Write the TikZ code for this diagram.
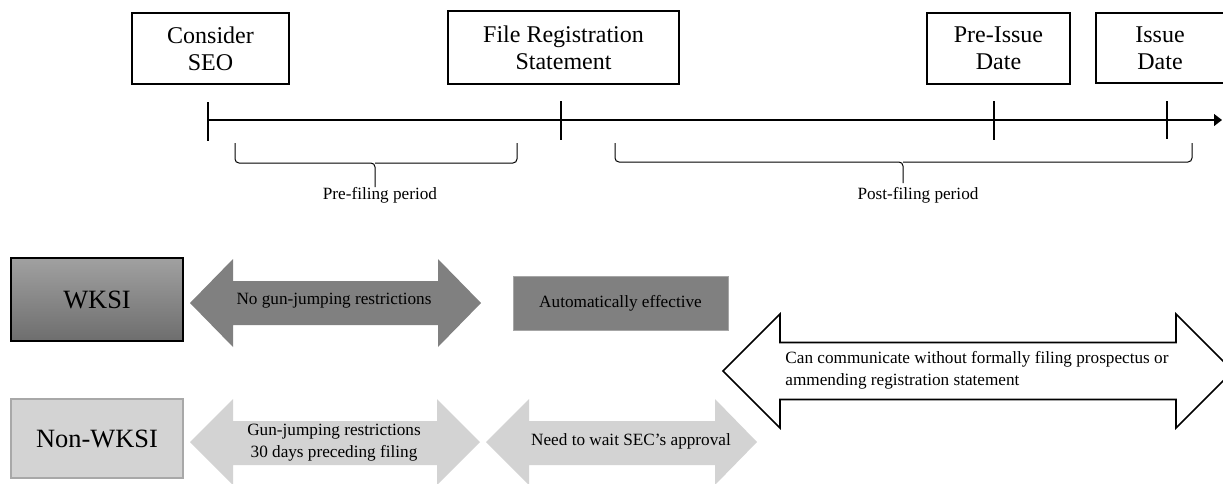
\documentclass[tikz,border=0pt]{standalone}
\usepackage{fontspec}
\setmainfont{Liberation Serif}
\usetikzlibrary{positioning,arrows.meta}

\definecolor{darkfill}{HTML}{808080}
\definecolor{lightfill}{HTML}{D3D3D3}
\definecolor{lightedge}{HTML}{A8A8A8}

\tikzset{
  datebox/.style={draw, line width=0.9pt, align=center, inner sep=0pt,
    font=\fontsize{12}{13.5}\selectfont},
  groupbox/.style={align=center, inner sep=0pt, font=\fontsize{13.2}{15}\selectfont},
  smalltxt/.style={align=center, inner sep=0pt, font=\fontsize{8.6}{11}\selectfont},
  tickmark/.style={line width=1pt},
  periodbrace/.style={line width=0.5pt, rounded corners=2pt},
}

\begin{document}
\begin{tikzpicture}[x=0.5pt,y=-0.5pt]
    \useasboundingbox (0,0) rectangle (1223,483);
    \clip (0,0) rectangle (1223,483);

    % dates above the time line
    \node[datebox, minimum width=78.5pt, minimum height=35.5pt] (seo)      at (210.5,48.5) {Consider\\SEO};
    \node[datebox, minimum width=115.5pt, minimum height=36.5pt] (file)    at (563.5,47.5) {File Registration\\Statement};
    \node[datebox, minimum width=71.5pt, minimum height=35.5pt] (preissue) at (998.5,48.5) {Pre-Issue\\Date};
    \node[datebox, minimum width=64pt, minimum height=35pt] (issue)        at (1160,48)    {Issue\\Date};

    % time line
    \coordinate (tlstart) at (208,120);
    \coordinate (tlend)   at (1222,120);
    \draw[line width=0.6pt, -{Triangle[length=4pt,width=6pt]}] (tlstart) -- (tlend);
    \draw[tickmark] (208,102)  -- (208,141);  % consider
    \draw[tickmark] (561,101)  -- (561,140);  % file
    \draw[tickmark] (994,101)  -- (994,140);  % pre-issue
    \draw[tickmark] (1167,101) -- (1167,139); % issue

    % periods
    \draw[periodbrace] (235,143) |- (375,163) -- (375,187);
    \draw[periodbrace] (517,143) |- (375,163);
    \node[smalltxt] (prefiling) at (380,195) {Pre-filing period};

    \draw[periodbrace] (615,143) |- (903,162) -- (903,183);
    \draw[periodbrace] (1192,143) |- (903,162);
    \node[smalltxt] (postfiling) at (918,195) {Post-filing period};

    % WKSI row
    \node[groupbox, draw, line width=0.9pt, top color=black!37, bottom color=black!57,
          minimum width=86pt, minimum height=41.5pt] (wksi) at (97,299.5) {WKSI};
    \fill[darkfill] (190,303) -- (233,259) -- (233,281) -- (438,281) -- (438,259) -- (481,303)
          -- (438,347) -- (438,325) -- (233,325) -- (233,347) -- cycle;
    \node[smalltxt] (nogun) at (334,301) {No gun-jumping restrictions};
    \node[smalltxt, fill=darkfill, draw=black!35, line width=0.5pt,
          minimum width=107.5pt, minimum height=27pt] (auto) at (620.5,303) {Automatically effective};

    % Non-WKSI row
    \node[groupbox, fill=lightfill, draw=lightedge, line width=0.6pt,
          minimum width=86pt, minimum height=39.5pt] (nonwksi) at (97,438.5) {Non-WKSI};
    \fill[lightfill] (190,442) -- (233,399) -- (233,421) -- (437,421) -- (437,399) -- (480,442)
          -- (437,485) -- (437,465) -- (233,465) -- (233,485) -- cycle;
    \node[smalltxt] (gun) at (334,443) {Gun-jumping restrictions\\30 days preceding filing};
    \fill[lightfill] (486,442) -- (529,399) -- (529,421) -- (715,421) -- (715,399) -- (757,442)
          -- (715,485) -- (715,465) -- (529,465) -- (529,485) -- cycle;
    \node[smalltxt] (wait) at (631,441) {Need to wait SEC’s approval};

    % both rows
    \draw[fill=white, line width=0.8pt] (723,371) -- (780,314) -- (780,342.5) -- (1176,342.5) -- (1176,314)
          -- (1233,371) -- (1176,428) -- (1176,399.5) -- (780,399.5) -- (780,428) -- cycle;
    \node[smalltxt, align=left, anchor=west] (comm) at (785,370)
          {Can communicate without formally filing prospectus or\\ammending registration statement};
\end{tikzpicture}
\end{document}
